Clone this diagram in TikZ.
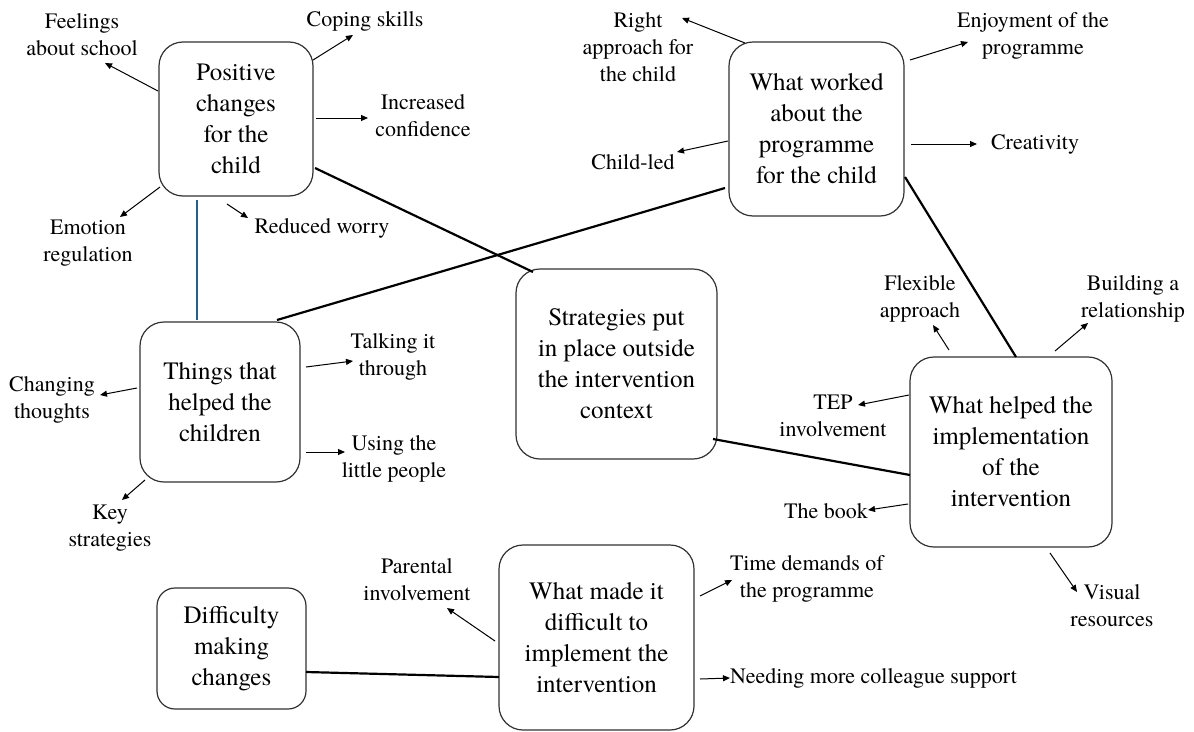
\documentclass[tikz,border=0pt]{standalone}
\usepackage{fontspec}
\setmainfont{TeX Gyre Termes}
\usetikzlibrary{arrows.meta,calc}
\definecolor{bluelink}{RGB}{36,96,138}
\definecolor{boxline}{RGB}{50,50,50}
\begin{document}
\begin{tikzpicture}[x=1pt,y=-1pt,
  box/.style={draw=boxline, line width=1.2pt, rounded corners=24pt, align=center,
    font=\fontsize{25}{31}\selectfont, inner sep=0pt},
  lbl/.style={align=center, font=\fontsize{22}{27}\selectfont, inner sep=0pt},
  arr/.style={line width=1pt, -{Triangle[length=7pt,width=6pt]}},
  conn/.style={line width=2.2pt}]
\useasboundingbox (0,0) rectangle (1194,731);
\fill[white] (0,0) rectangle (1194,731);

% boxes
\node[box, minimum width=154pt, minimum height=154pt] (b1) at (236,119) {Positive\\changes\\for the\\child};
\node[box, minimum width=175pt, minimum height=174pt] (b2) at (816.5,129) {What worked\\about the\\programme\\for the child};
\node[box, minimum width=160pt, minimum height=160pt] (b3) at (220,402) {Things that\\helped the\\children};
\node[box, minimum width=201pt, minimum height=190pt] (b4) at (616.5,364) {Strategies put\\in place outside\\the intervention\\context};
\node[box, minimum width=202pt, minimum height=190pt] (b5) at (1011,452) {What helped the\\implementation\\of the\\intervention};
\node[box, rounded corners=18pt, minimum width=149pt, minimum height=121pt] (b6) at (231.5,648.5) {Difficulty\\making\\changes};
\node[box, minimum width=195pt, minimum height=185pt] (b7) at (596.5,637.5) {What made it\\difficult to\\implement the\\intervention};

% labels
\node[lbl] (feel) at (82,35) {Feelings\\about school};
\node[lbl] (cope) at (365,21) {Coping skills};
\node[lbl] (conf) at (423,116) {Increased\\confidence};
\node[lbl] (emo) at (88,243) {Emotion\\regulation};
\node[lbl] (worry) at (322,228) {Reduced worry};

\node[lbl] (right) at (638,47.5) {Right\\approach for\\the child};
\node[lbl] (enjoy) at (1033,36) {Enjoyment of the\\programme};
\node[lbl] (childled) at (633,162) {Child-led};
\node[lbl] (creat) at (1035,144) {Creativity};

\node[lbl] (chg) at (52,400) {Changing\\thoughts};
\node[lbl] (talk) at (393,357) {Talking it\\through};
\node[lbl] (using) at (394,459) {Using the\\little people};
\node[lbl] (key) at (110,528) {Key\\strategies};

\node[lbl] (flex) at (920,298.5) {Flexible\\approach};
\node[lbl] (build) at (1133,299) {Building a\\relationship};
\node[lbl] (tep) at (833,415.5) {TEP\\involvement};
\node[lbl] (book) at (826,511) {The book};
\node[lbl] (visual) at (1112,606) {Visual\\resources};

\node[lbl] (parent) at (417,580) {Parental\\involvement};
\node[lbl] (time) at (807,579) {Time demands of\\the programme};
\node[lbl, anchor=west] (need) at (730,678) {Needing more colleague support};

% connectors between boxes
\draw[conn] ($(b1)+(79,49)$) -- ($(b4)+(-83.5,-92)$);
\draw[conn, bluelink, line width=2pt] ($(b1)+(-39,81)$) -- ($(b3)+(-23,-82)$);
\draw[conn] ($(b2)+(-91.5,59)$) -- ($(b3)+(57,-82)$);
\draw[conn] ($(b2)+(88.5,48)$) -- ($(b5)+(5,-95)$);
\draw[conn] ($(b4)+(96.5,75)$) -- ($(b5)+(-101,23)$);
\draw[conn] ($(b6)+(74.5,23.5)$) -- ($(b7)+(-97.5,39.5)$);

% arrows box 1
\draw[arr] ($(b1)+(-78,-28)$) -- ($(feel)+(23,28)$);
\draw[arr] ($(b1)+(77,-59)$) -- ($(cope)+(-12,14)$);
\draw[arr] ($(b1)+(80,-1)$) -- ($(conf)+(-55,2)$);
\draw[arr] ($(b1)+(-76,68)$) -- ($(emo)+(32,-26)$);
\draw[arr] ($(b1)+(-9,85)$) -- ($(worry)+(-74,-10)$);

% arrows box 2
\draw[arr] ($(b2)+(-71.5,-86)$) -- ($(right)+(44,-29.5)$);
\draw[arr] ($(b2)+(93.5,-69)$) -- ($(enjoy)+(-65,6)$);
\draw[arr] ($(b2)+(-88.5,12)$) -- ($(childled)+(44,-10)$);
\draw[arr] ($(b2)+(94.5,15)$) -- ($(creat)+(-58,0)$);

% arrows box 3
\draw[arr] ($(b3)+(-83,-14)$) -- ($(chg)+(48,-5)$);
\draw[arr] ($(b3)+(86,-35)$) -- ($(talk)+(-40,4)$);
\draw[arr] ($(b3)+(86,50)$) -- ($(using)+(-49,-7)$);
\draw[arr] ($(b3)+(-75,78)$) -- ($(key)+(12,-28)$);

% arrows box 5
\draw[arr] ($(b5)+(-62,-102)$) -- ($(flex)+(13,26.5)$);
\draw[arr] ($(b5)+(44,-101)$) -- ($(build)+(-45,24)$);
\draw[arr] ($(b5)+(-102,-57)$) -- ($(tep)+(25,-10.5)$);
\draw[arr] ($(b5)+(-103,52)$) -- ($(book)+(42,-1)$);
\draw[arr] ($(b5)+(39,101)$) -- ($(visual)+(-35,-14)$);

% arrows box 7
\draw[arr] ($(b7)+(-101.5,3.5)$) -- ($(parent)+(30,28)$);
\draw[arr] ($(b7)+(103.5,-41.5)$) -- ($(time)+(-75,1)$);
\draw[arr] ($(b7)+(103.5,41.5)$) -- (need.west);
\end{tikzpicture}
\end{document}
